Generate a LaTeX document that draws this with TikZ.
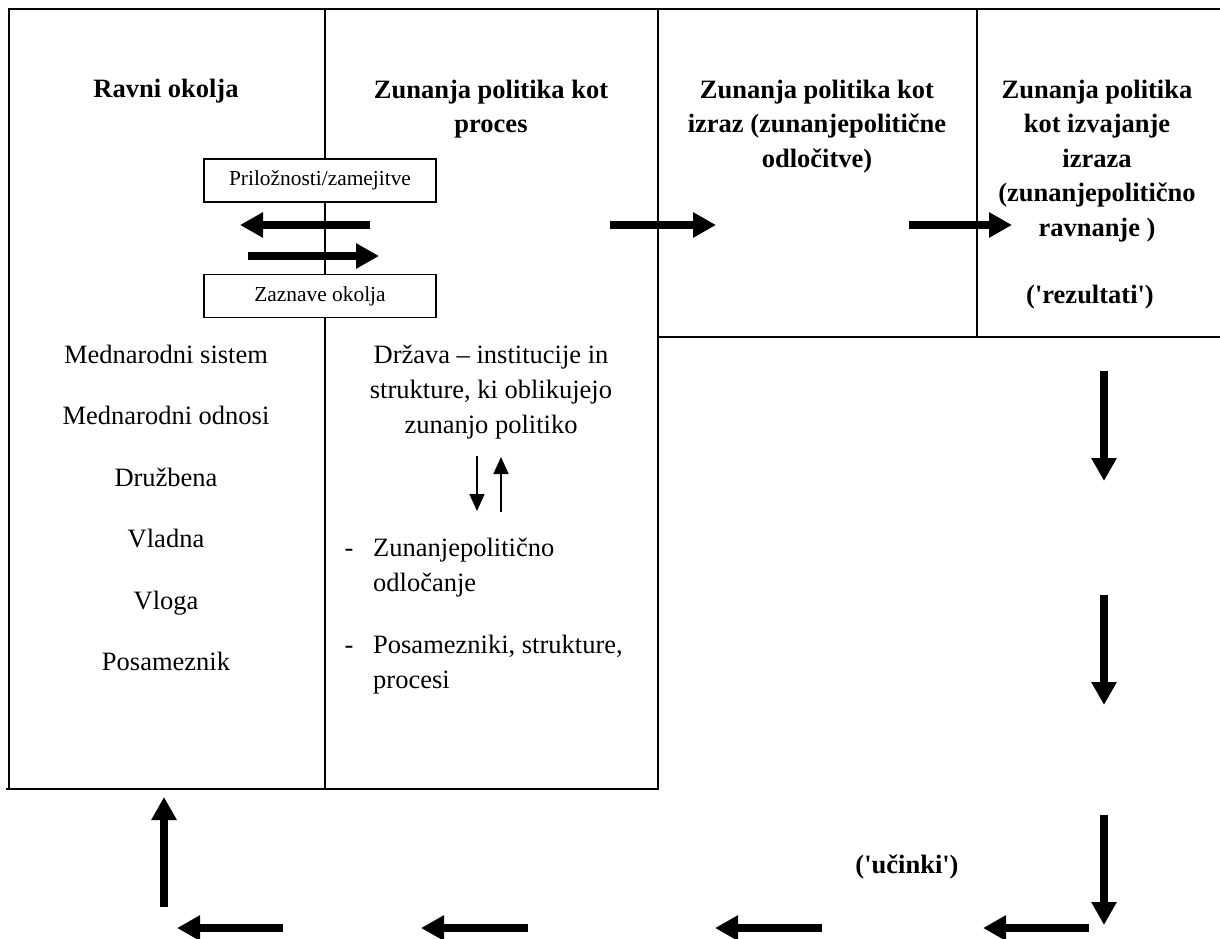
\documentclass[tikz,border=0pt]{standalone}
\usepackage{fontspec}
\setmainfont{Liberation Serif}
\usetikzlibrary{arrows.meta}
\begin{document}
\begin{tikzpicture}[x=1pt,y=-1pt,
  frame/.style={line width=2pt},
  head/.style={font=\fontsize{26.5}{34.5}\selectfont\bfseries, align=center, inner sep=0pt, anchor=base},
  body/.style={font=\fontsize{26.5}{35}\selectfont, inner sep=0pt, anchor=base},
  tagbox/.style={draw, fill=white, line width=1.6pt, minimum width=232pt, minimum height=43pt,
                 font=\fontsize{21.4}{25}\selectfont, inner sep=0pt},
  bigarrow/.style={line width=8pt, -{Triangle[length=23pt,width=24pt]}},
  thinarrow/.style={line width=1.5pt, -{Triangle[length=17pt,width=15pt]}},
]
\useasboundingbox (0,0) rectangle (1220,939);

% frame of the four columns
\draw[frame] (8,9) -- (1220,9);
\draw[frame] (9,9) -- (9,789);
\draw[frame] (6,789) -- (659,789);
\draw[frame] (325,9) -- (325,789);
\draw[frame] (658,9) -- (658,789);
\draw[frame] (977,9) -- (977,337);
\draw[frame] (658,337) -- (1220,337);

% column headings (multi-line nodes sit on the baseline of their last line)
\node[head] (h1) at (166,98) {Ravni okolja};
\node[head] (h2) at (491,132.5) {Zunanja politika kot\\proces};
\node[head] (h3) at (817,167) {Zunanja politika kot\\izraz (zunanjepolitične\\odločitve)};
\node[head] (h4) at (1097,236) {Zunanja politika\\kot izvajanje\\izraza\\(zunanjepolitično\\ravnanje )};
\node[head] (rez) at (1090,303) {({\textquotesingle}rezultati{\textquotesingle})};
\node[head] (uc) at (907,873) {({\textquotesingle}učinki{\textquotesingle})};

% boxes between the first two columns
\node[tagbox] (pz) at (320,180.5) {Priložnosti/zamejitve};
\node[tagbox] (zo) at (320,296) {Zaznave okolja};

% levels of the environment
\node[body] (l1) at (166,363) {Mednarodni sistem};
\node[body] (l2) at (166,424.5) {Mednarodni odnosi};
\node[body] (l3) at (166,486) {Družbena};
\node[body] (l4) at (166,547.5) {Vladna};
\node[body] (l5) at (166,609) {Vloga};
\node[body] (l6) at (166,670.5) {Posameznik};

% state and decision making
\node[body, align=center] (st) at (491,433) {Država – institucije in\\strukture, ki oblikujejo\\zunanjo politiko};
\node[body] (d1) at (349,556) {-};
\node[body, anchor=base west, align=left] (i1) at (373,591) {Zunanjepolitično\\odločanje};
\node[body] (d2) at (349,653) {-};
\node[body, anchor=base west, align=left] (i2) at (373,688) {Posamezniki, strukture,\\procesi};

% thin arrows between state and decision making
\coordinate (ta1) at (477,456); \coordinate (tb1) at (477,511);
\coordinate (ta2) at (501,512); \coordinate (tb2) at (501,457);
\draw[thinarrow] (ta1) -- (tb1);
\draw[thinarrow] (ta2) -- (tb2);

% thick arrows in the top row
\coordinate (a1s) at (370,225); \coordinate (a1e) at (240,225);
\coordinate (a2s) at (248,256); \coordinate (a2e) at (379,256);
\coordinate (a3s) at (610,225); \coordinate (a3e) at (716,225);
\coordinate (a4s) at (909,225); \coordinate (a4e) at (1012,225);
\draw[bigarrow] (a1s) -- (a1e);
\draw[bigarrow] (a2s) -- (a2e);
\draw[bigarrow] (a3s) -- (a3e);
\draw[bigarrow] (a4s) -- (a4e);

% feedback loop: down the right side
\coordinate (r1s) at (1104,371); \coordinate (r1e) at (1104,481);
\coordinate (r2s) at (1104,595); \coordinate (r2e) at (1104,705);
\coordinate (r3s) at (1104,815); \coordinate (r3e) at (1104,925);
\draw[bigarrow] (r1s) -- (r1e);
\draw[bigarrow] (r2s) -- (r2e);
\draw[bigarrow] (r3s) -- (r3e);

% along the bottom
\coordinate (b1s) at (1089,928); \coordinate (b1e) at (983,928);
\coordinate (b2s) at (822,928); \coordinate (b2e) at (715,928);
\coordinate (b3s) at (528,928); \coordinate (b3e) at (421,928);
\coordinate (b4s) at (283,928); \coordinate (b4e) at (177,928);
\draw[bigarrow] (b1s) -- (b1e);
\draw[bigarrow] (b2s) -- (b2e);
\draw[bigarrow] (b3s) -- (b3e);
\draw[bigarrow] (b4s) -- (b4e);

% and back up to the environment
\coordinate (u1s) at (164,907); \coordinate (u1e) at (164,797);
\draw[bigarrow] (u1s) -- (u1e);
\end{tikzpicture}
\end{document}
